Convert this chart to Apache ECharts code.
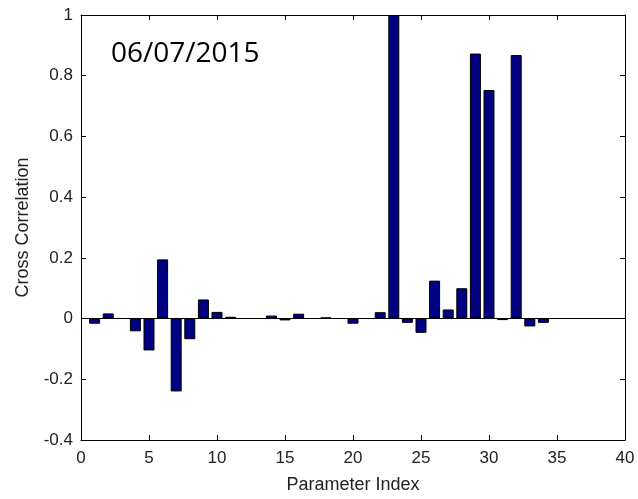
<!DOCTYPE html>
<html>
<head>
<meta charset="utf-8">
<script src="https://cdn.jsdelivr.net/npm/echarts@6/dist/echarts.min.js"></script>
<style>
  html, body { margin: 0; padding: 0; background: #fff; }
  #chart { width: 638px; height: 499px; }
</style>
</head>
<body>
<div id="chart"></div>
<script>
// parameter index and cross correlation value for each bar
var paramIndex = [1, 2, 4, 5, 6, 7, 8, 9, 10, 11, 14, 15, 16, 18, 20, 22, 23, 24, 25, 26, 27, 28, 29, 30, 31, 32, 33, 34];
var crossCorr = [-0.017, 0.017, -0.042, -0.105, 0.195, -0.24, -0.068, 0.063, 0.022, 0.006, 0.01, -0.006, 0.016, 0.004, -0.017, 0.021, 1.0, -0.014, -0.047, 0.125, 0.03, 0.1, 0.873, 0.753, -0.005, 0.868, -0.026, -0.014];
var xTicks = [0, 5, 10, 15, 20, 25, 30, 35, 40];
var yTicks = [-0.4, -0.2, 0, 0.2, 0.4, 0.6, 0.8, 1];
var dateLabel = '06/07/2015';

var barData = paramIndex.map(function (p, i) { return [p, crossCorr[i]]; });

var nameFont = { fontFamily: 'Liberation Sans', fontSize: 18, color: '#222' };

var option = {
    backgroundColor: '#fff',
    animation: false,
    grid: { left: 81, right: 13, top: 15, bottom: 58 },
    graphic: [{
        type: 'text',
        left: 111,
        top: 40,
        style: { text: dateLabel, font: '28px "Open Sans"', fill: '#000' }
    }],
    xAxis: [{
        type: 'value',
        min: xTicks[0],
        max: xTicks[xTicks.length - 1],
        interval: 5,
        name: 'Parameter Index',
        nameLocation: 'middle',
        nameGap: 36,
        nameTextStyle: nameFont,
        axisLine: { onZero: false, lineStyle: { color: '#000', width: 1 } },
        axisTick: { inside: true, length: 5, lineStyle: { color: '#000' } },
        axisLabel: { margin: 10, fontFamily: 'Liberation Sans', fontSize: 17, color: '#222' },
        splitLine: { show: false }
    }, {
        type: 'value',
        position: 'top',
        min: xTicks[0],
        max: xTicks[xTicks.length - 1],
        interval: 5,
        axisLine: { onZero: false, lineStyle: { color: '#000', width: 1 } },
        axisTick: { inside: true, length: 5, lineStyle: { color: '#000' } },
        axisLabel: { show: false },
        splitLine: { show: false }
    }],
    yAxis: [{
        type: 'value',
        min: yTicks[0],
        max: yTicks[yTicks.length - 1],
        interval: 0.2,
        name: 'Cross Correlation',
        nameLocation: 'middle',
        nameGap: 49,
        nameTextStyle: nameFont,
        axisLine: { onZero: false, show: true, lineStyle: { color: '#000', width: 1 } },
        axisTick: { show: true, inside: true, length: 5, lineStyle: { color: '#000' } },
        axisLabel: {
            margin: 8, fontFamily: 'Liberation Sans', fontSize: 17, color: '#222',
            formatter: function (v) { return String(Math.round(v * 10) / 10); }
        },
        splitLine: { show: false }
    }, {
        type: 'value',
        position: 'right',
        min: yTicks[0],
        max: yTicks[yTicks.length - 1],
        interval: 0.2,
        axisLine: { onZero: false, show: true, lineStyle: { color: '#000', width: 1 } },
        axisTick: { show: true, inside: true, length: 5, lineStyle: { color: '#000' } },
        axisLabel: { show: false },
        splitLine: { show: false }
    }],
    series: [{
        type: 'bar',
        data: barData,
        barWidth: 11,
        itemStyle: { color: '#000080', borderColor: '#000', borderWidth: 1 },
        markLine: {
            silent: true,
            symbol: 'none',
            label: { show: false },
            lineStyle: { color: '#000', type: 'solid', width: 1 },
            data: [{ yAxis: 0 }]
        }
    }]
};

var myChart = echarts.init(document.getElementById('chart'));
myChart.setOption(option);
</script>
</body>
</html>
